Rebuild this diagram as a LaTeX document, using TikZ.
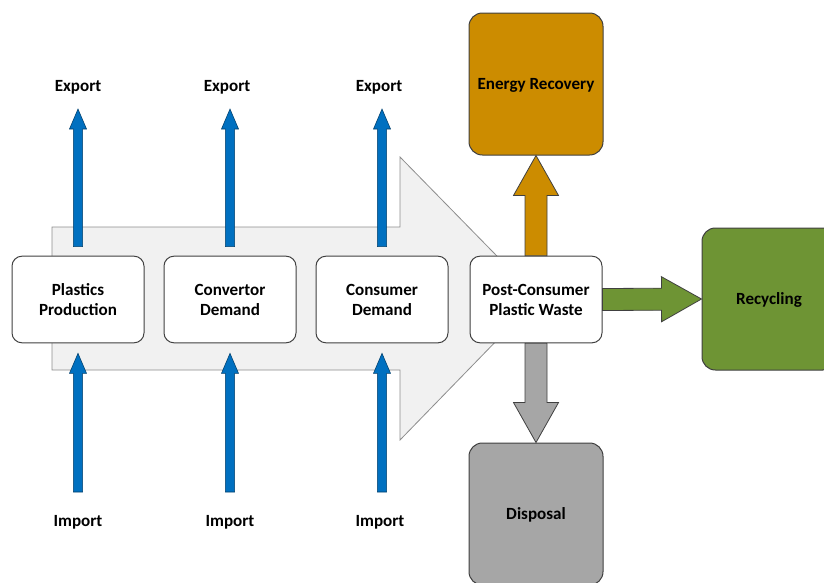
\documentclass[tikz,border=0pt]{standalone}
\usepackage{fontspec}
\setmainfont{Carlito}
\usetikzlibrary{calc}
\definecolor{flowBlue}{RGB}{0,112,192}
\definecolor{flowOrange}{RGB}{204,140,0}
\definecolor{flowGreen}{RGB}{110,148,52}
\definecolor{flowGray}{RGB}{166,166,166}
\definecolor{flowEdge}{RGB}{64,64,64}
\definecolor{flowBack}{RGB}{241,241,241}
\tikzset{
  stage/.style={rectangle,draw=flowEdge,fill=white,rounded corners=7.5pt,
    line width=0.75pt,minimum width=99pt,minimum height=65pt,inner sep=0pt,
    align=center,font=\bfseries\fontsize{12.8}{15}\selectfont},
  sink/.style={stage,fill=#1,minimum width=100.5pt,minimum height=106.5pt,
    rounded corners=10pt,text height=1em,text depth=0.2em},
  tradelabel/.style={inner sep=0pt,font=\bfseries\fontsize{12.8}{15}\selectfont},
  tradearrow/.style={fill=flowBlue,draw=flowBlue!55!black,line width=0.4pt},
  fatarrow/.style={fill=#1,draw=flowEdge,line width=0.6pt},
  backarrow/.style={fill=flowBack,draw=flowGray!85!black,line width=0.6pt}
}
% block arrow: #1 style, #2 from, #3 tip, #4 half shaft, #5 half head, #6 head length
\newcommand{\blockarrow}[6]{%
  \path (#2) coordinate (ba-from) (#3) coordinate (ba-to);
  \path ($(ba-to)!#6!(ba-from)$) coordinate (ba-base);
  \draw[#1] ($(ba-from)!#4!90:(ba-to)$) -- ($(ba-base)!#4!90:(ba-to)$)
    -- ($(ba-base)!#5!90:(ba-to)$) -- (ba-to)
    -- ($(ba-base)!#5!-90:(ba-to)$) -- ($(ba-base)!#4!-90:(ba-to)$)
    -- ($(ba-from)!#4!-90:(ba-to)$) -- cycle;}

\begin{document}
\begin{tikzpicture}[x=0.75pt,y=0.75pt]
  \clip (0,0) rectangle (824,-582);
  % flow direction behind the chain
  \draw[backarrow] (52,-227) -- (400,-227) -- (400,-157) -- (538,-298)
    -- (400,-440) -- (400,-370) -- (52,-370) -- cycle;

  \node[stage] (pp) at (78,-299.5) {Plastics\\Production};
  \node[stage] (cd) at (230,-299.5) {Convertor\\Demand};
  \node[stage] (cons) at (382,-299.5) {Consumer\\Demand};
  \node[stage] (post) at (536,-299.5) {Post-Consumer\\Plastic Waste};
  \node[sink=flowOrange] (energy) at (536,-84) {Energy Recovery};
  \node[sink=flowGray] (disp) at (536,-514) {Disposal};
  \node[sink=flowGreen] (recyc) at (769,-299) {Recycling};

  \node[tradelabel] (expa) at (78,-87) {Export};
  \node[tradelabel] (expb) at (227,-87) {Export};
  \node[tradelabel] (expc) at (379,-87) {Export};
  \node[tradelabel] (impa) at (78,-522) {Import};
  \node[tradelabel] (impb) at (230,-522) {Import};
  \node[tradelabel] (impc) at (380,-522) {Import};

  \foreach \stg/\lab in {pp/expa,cd/expb,cons/expc}
    \blockarrow{tradearrow}{$(\stg.north)+(0,9)$}{$(\stg.north|-\lab.center)+(0,-22)$}{3.4pt}{6.4pt}{15pt};
  \foreach \stg/\lab in {pp/impa,cd/impb,cons/impc}
    \blockarrow{tradearrow}{$(\stg.south|-\lab.center)+(0,30)$}{$(\stg.south)+(0,-10)$}{3.4pt}{6.4pt}{15pt};

  \blockarrow{fatarrow=flowOrange}{post.north}{energy.south}{8.25pt}{16.9pt}{30pt}
  \blockarrow{fatarrow=flowGray}{post.south}{disp.north}{8.25pt}{16.9pt}{30pt}
  \blockarrow{fatarrow=flowGreen}{post.east}{recyc.west}{8.25pt}{16.9pt}{30pt}
\end{tikzpicture}
\end{document}
